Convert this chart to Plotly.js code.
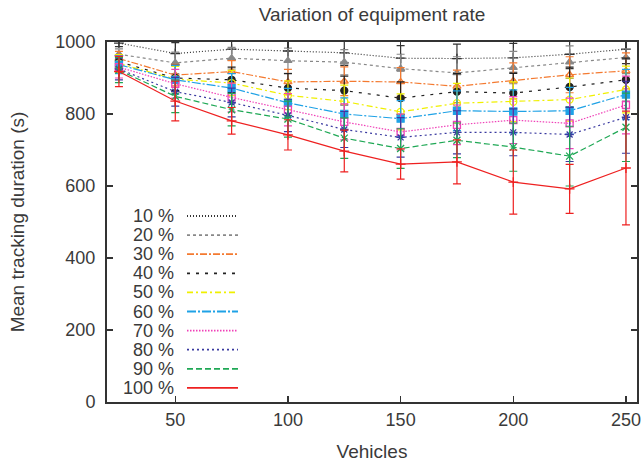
<!DOCTYPE html>
<html><head><meta charset="utf-8">
<script src="https://cdn.plot.ly/plotly-3.0.1.min.js"></script>
<style>html,body{margin:0;padding:0;background:#fff}#chart{width:643px;height:463px}</style>
</head><body><div id="chart"></div>
<script>
var vehicles = [25, 50, 75, 100, 125, 150, 175, 200, 225, 250];
var seriesNames = ["10 %", "20 %", "30 %", "40 %", "50 %", "60 %", "70 %", "80 %", "90 %", "100 %"];
var rate10  = [997, 968, 980, 975, 970, 955, 954, 956, 966, 980];
var rate20  = [966, 942, 955, 948, 944, 926, 914, 929, 944, 957];
var rate30  = [954, 908, 918, 889, 891, 889, 877, 892, 909, 920];
var rate40  = [945, 900, 895, 872, 865, 844, 862, 858, 875, 895];
var rate50  = [940, 897, 886, 852, 835, 806, 830, 834, 840, 868];
var rate60  = [937, 895, 872, 831, 800, 787, 809, 807, 809, 854];
var rate70  = [930, 884, 846, 812, 778, 750, 770, 783, 774, 825];
var rate80  = [925, 862, 832, 796, 757, 735, 749, 749, 743, 791];
var rate90  = [922, 849, 812, 786, 733, 704, 727, 708, 683, 763];
var rate100 = [918, 836, 781, 742, 697, 661, 667, 611, 592, 650];
var err10  = [10, 30, 30, 30, 35, 35, 40, 40, 40, 40];
var err20  = [15, 30, 30, 35, 35, 40, 45, 45, 45, 45];
var err30  = [20, 30, 30, 35, 40, 40, 45, 50, 50, 50];
var err40  = [20, 35, 35, 40, 40, 45, 50, 55, 55, 60];
var err50  = [25, 35, 35, 40, 45, 50, 55, 55, 60, 65];
var err60  = [25, 40, 40, 40, 45, 50, 55, 60, 65, 70];
var err70  = [30, 40, 40, 45, 50, 50, 55, 65, 70, 80];
var err80  = [30, 40, 40, 45, 50, 55, 60, 65, 75, 100];
var err90  = [35, 45, 45, 50, 56, 55, 48, 67, 83, 95];
var err100 = [42, 55, 37, 42, 58, 42, 61, 89, 68, 158];

var values = [rate10, rate20, rate30, rate40, rate50, rate60, rate70, rate80, rate90, rate100];
var errors = [err10, err20, err30, err40, err50, err60, err70, err80, err90, err100];
var colors = ["#333333", "#888888", "#f47a30", "#222222", "#f0f000", "#1fa2e6", "#f040b8", "#3a3aa0", "#1fa855", "#ee2020"];
var dashes = ["1px,2px", "3px,3px", "7px,2px,2px,2px", "3px,6px", "6px,3px,2px,3px", "9px,2px,2px,2px", "1.5px,1.5px", "2px,3px", "6px,3px", "solid"];
var symbols = ["cross-thin-open", "triangle-up", "triangle-up-open", "circle", "circle-open", "square", "square-open", "asterisk-open", "x-thin-open", "cross-thin-open"];

var traces = [];
for (var i = 0; i < values.length; i++) {
  traces.push({
    type: "scatter", mode: "lines+markers", name: seriesNames[i],
    x: vehicles, y: values[i],
    line: {color: colors[i], width: 1.2, dash: dashes[i]},
    marker: {symbol: symbols[i], size: 7, color: colors[i], line: {color: colors[i], width: 1.3}},
    error_y: {type: "data", array: errors[i], visible: true, color: colors[i], thickness: 1.2, width: 4},
    showlegend: false, cliponaxis: true
  });
}

var plotL = 107, plotR = 637, plotT = 42, plotB = 402;
var pw = plotR - plotL, ph = plotB - plotT;
var fam = "Liberation Sans, Arial, sans-serif";
var txtColor = "#3a3a3a";
var shapes = [], annotations = [];
for (var j = 0; j < seriesNames.length; j++) {
  var py = 216 + j * 19.1;
  var yp = (plotB - py) / ph;
  annotations.push({xref: "paper", yref: "paper", x: (176 - plotL) / pw, y: yp, xanchor: "right", yanchor: "middle",
    text: seriesNames[j], showarrow: false, font: {family: fam, size: 18, color: txtColor}});
  shapes.push({type: "line", xref: "paper", yref: "paper", x0: (187 - plotL) / pw, x1: (238 - plotL) / pw, y0: yp, y1: yp,
    line: {color: colors[j], width: 1.8, dash: dashes[j]}});
}

var fnt = {family: fam, size: 18, color: txtColor};
var tfnt = {family: fam, size: 19, color: txtColor};
var layout = {
  width: 643, height: 463,
  margin: {l: plotL, r: 643 - plotR, t: plotT, b: 463 - plotB},
  paper_bgcolor: "#fff", plot_bgcolor: "#fff",
  font: fnt,
  title: {text: "Variation of equipment rate", x: 0.5, xref: "paper", y: 1 - 14 / 463, yref: "container", yanchor: "middle", font: tfnt},
  xaxis: {range: [19.7, 254.9], tickvals: [50, 100, 150, 200, 250], ticks: "inside", ticklen: 6, tickwidth: 1.5, tickcolor: "#333",
    showline: true, linecolor: "#333", linewidth: 2, mirror: "ticks", showgrid: false, zeroline: false,
    tickfont: fnt, title: {text: "Vehicles", font: tfnt, standoff: 16}},
  yaxis: {range: [0, 1000], tickvals: [0, 200, 400, 600, 800, 1000], ticks: "inside", ticklen: 6, tickwidth: 1.5, tickcolor: "#333",
    showline: true, linecolor: "#333", linewidth: 2, mirror: "ticks", showgrid: false, zeroline: false,
    tickfont: fnt, ticklabelstandoff: 6, title: {text: "Mean tracking duration (s)", font: tfnt, standoff: 26}},
  shapes: shapes, annotations: annotations, showlegend: false
};
Plotly.newPlot("chart", traces, layout, {displayModeBar: false, staticPlot: true});
</script></body></html>
